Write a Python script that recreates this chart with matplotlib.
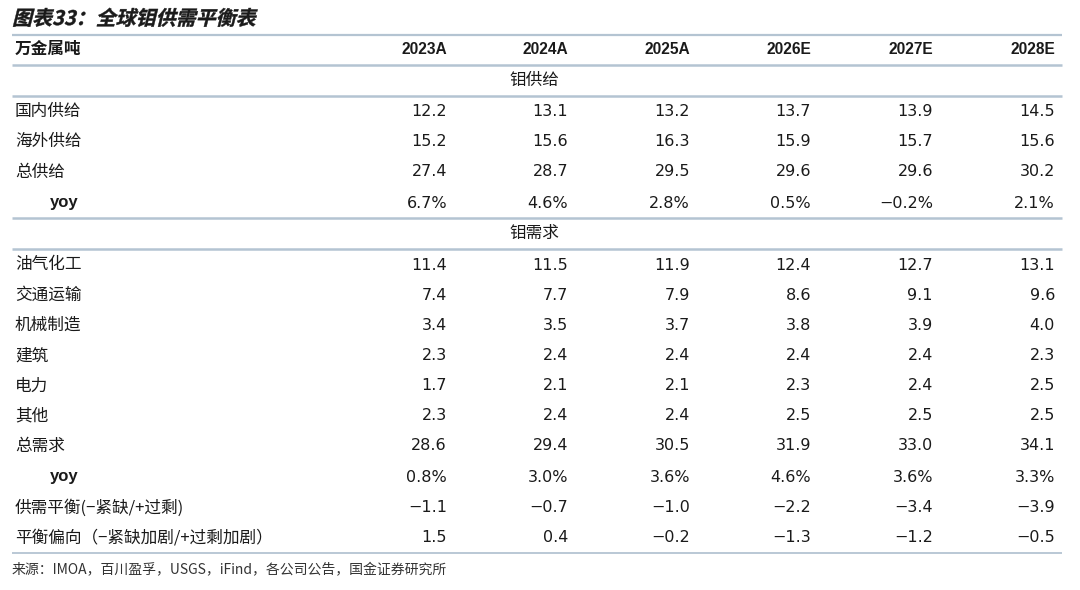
import matplotlib
matplotlib.use("Agg")
import matplotlib.pyplot as plt
from matplotlib.textpath import TextPath
from matplotlib.patches import PathPatch
from matplotlib.font_manager import FontProperties
import matplotlib.transforms as mtransforms

plt.rcParams['font.family'] = ['Noto Sans CJK SC', 'DejaVu Sans']

title = "图表33：全球钼供需平衡表"
unit_label = "万金属吨"
years = ["2023A", "2024A", "2025A", "2026E", "2027E", "2028E"]
supply_section = "钼供给"
demand_section = "钼需求"

supply_labels = ["国内供给", "海外供给", "总供给", "yoy"]
domestic = [12.2, 13.1, 13.2, 13.7, 13.9, 14.5]
overseas = [15.2, 15.6, 16.3, 15.9, 15.7, 15.6]
total_supply = [27.4, 28.7, 29.5, 29.6, 29.6, 30.2]
supply_yoy = [6.7, 4.6, 2.8, 0.5, -0.2, 2.1]

demand_labels = ["油气化工", "交通运输", "机械制造", "建筑", "电力", "其他", "总需求", "yoy",
                 "供需平衡(−紧缺/+过剩)", "平衡偏向（−紧缺加剧/+过剩加剧）"]
oil_chem = [11.4, 11.5, 11.9, 12.4, 12.7, 13.1]
transport = [7.4, 7.7, 7.9, 8.6, 9.1, 9.6]
machinery = [3.4, 3.5, 3.7, 3.8, 3.9, 4.0]
construction = [2.3, 2.4, 2.4, 2.4, 2.4, 2.3]
power = [1.7, 2.1, 2.1, 2.3, 2.4, 2.5]
other = [2.3, 2.4, 2.4, 2.5, 2.5, 2.5]
total_demand = [28.6, 29.4, 30.5, 31.9, 33.0, 34.1]
demand_yoy = [0.8, 3.0, 3.6, 4.6, 3.6, 3.3]
balance = [-1.1, -0.7, -1.0, -2.2, -3.4, -3.9]
balance_bias = [1.5, 0.4, -0.2, -1.3, -1.2, -0.5]

source = "来源：IMOA，百川盈孚，USGS，iFind，各公司公告，国金证券研究所"

W, H = 1080, 590
fig = plt.figure(figsize=(W / 100, H / 100), dpi=100)
ax = fig.add_axes([0, 0, 1, 1])
ax.set_xlim(0, W)
ax.set_ylim(H, 0)
ax.axis("off")

TXT = "#1a1a1a"
LINE = "#b4c4d2"
col_right = [447, 568, 690, 811, 933, 1055]
x_left, x_right = 12, 1062
label_x = 15
yoy_x = 50
fs = 12


def fmt(v, pct=False):
    s = f"{abs(v):.1f}"
    if v < 0:
        s = "\u2212" + s
    return s + ("%" if pct else "")


# title (slanted, bold)
tp = TextPath((0, 0), title, size=20,
              prop=FontProperties(family="Noto Sans CJK SC", weight="bold"))
tr = mtransforms.Affine2D().skew_deg(14, 0).scale(1, -1).translate(12, 25) + ax.transData
ax.add_patch(PathPatch(tp, transform=tr, color=TXT, lw=0.3))

# horizontal rules
for y, lw in [(35, 1.6), (65, 1.8), (96, 1.8), (218, 1.8), (249, 1.8), (553, 1.3)]:
    ax.plot([x_left, x_right], [y, y], color=LINE, lw=lw, solid_capstyle="butt")

# header
ax.text(label_x, 49, unit_label, fontsize=fs, fontweight="bold", color=TXT, va="center", ha="left")
for x, yr in zip(col_right, years):
    ax.text(x, 49, yr, fontsize=11.2, fontweight="bold", color=TXT, va="center", ha="right",
            family="Liberation Sans")

ax.text(534, 80, supply_section, fontsize=fs, color=TXT, va="center", ha="center")
ax.text(534, 233, demand_section, fontsize=fs, color=TXT, va="center", ha="center")

supply_rows = [domestic, overseas, total_supply, supply_yoy]
supply_y = [111, 141, 172, 203]
demand_rows = [oil_chem, transport, machinery, construction, power, other,
               total_demand, demand_yoy, balance, balance_bias]
demand_y = [265, 295, 325, 356, 386, 416, 446, 477, 508, 538]


def draw_rows(labels, rows, ys, pct_index):
    for i, (lab, vals, y) in enumerate(zip(labels, rows, ys)):
        pct = i == pct_index
        if lab == "yoy":
            ax.text(yoy_x, y, lab, fontsize=fs, fontweight="bold", color=TXT, va="center", ha="left",
                    family="Liberation Sans")
        else:
            ax.text(label_x, y, lab, fontsize=fs, color=TXT, va="center", ha="left")
        for x, v in zip(col_right, vals):
            ax.text(x, y, fmt(v, pct), fontsize=11.5, color=TXT,
                    va="center", ha="right", family="DejaVu Sans")


draw_rows(supply_labels, supply_rows, supply_y, 3)
draw_rows(demand_labels, demand_rows, demand_y, 7)

ax.text(12, 570, source, fontsize=10, color="#333333", va="center", ha="left")

fig.savefig("out.png", dpi=100, facecolor="white")
